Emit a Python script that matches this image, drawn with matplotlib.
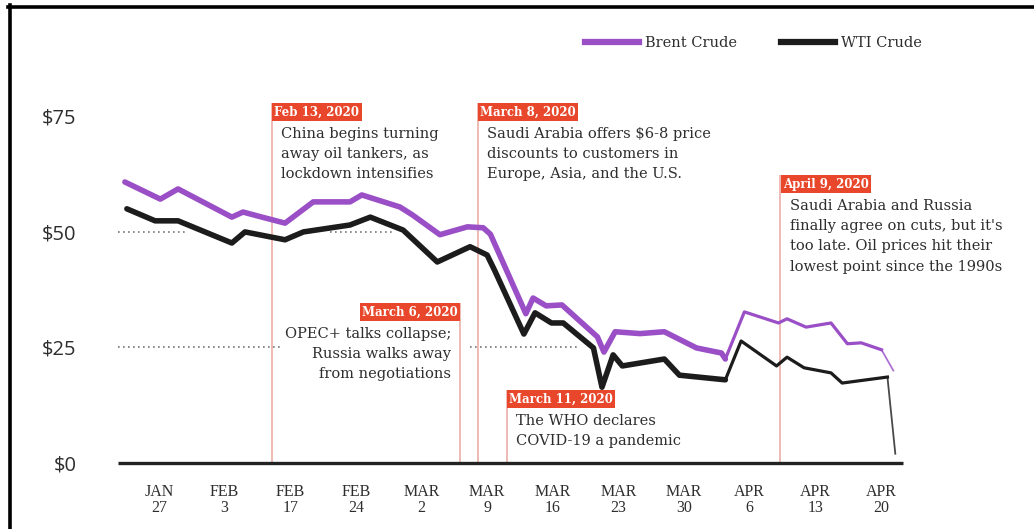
import matplotlib
matplotlib.use("Agg")
import matplotlib.pyplot as plt
from matplotlib.lines import Line2D

# x positions are in "tick units": 0 = JAN 27, 1 = FEB 3, ... 11 = APR 20
tick_labels = ["JAN\n27", "FEB\n3", "FEB\n17", "FEB\n24", "MAR\n2", "MAR\n9",
               "MAR\n16", "MAR\n23", "MAR\n30", "APR\n6", "APR\n13", "APR\n20"]

brent_x = [-0.52, 0.02, 0.29, 1.11, 1.28, 1.57, 1.92, 2.35, 2.91, 3.09, 3.67, 3.86,
           4.28, 4.70, 4.94, 5.05, 5.59, 5.70, 5.90, 6.14, 6.68, 6.78, 6.95, 7.33,
           7.70, 8.19, 8.57, 8.63, 8.92, 9.44, 9.57, 9.86, 10.24, 10.49, 10.70,
           11.01, 11.19]
brent_y = [60.8, 57.1, 59.3, 53.2, 54.3, 53.2, 51.9, 56.5, 56.5, 58.0, 55.4, 53.7,
           49.4, 51.1, 50.9, 49.5, 32.3, 35.7, 34.0, 34.2, 27.3, 24.0, 28.4, 28.0,
           28.4, 24.9, 23.8, 22.5, 32.7, 30.3, 31.2, 29.4, 30.3, 25.8, 26.0,
           24.5, 20.0]

wti_x = [-0.49, -0.06, 0.29, 1.11, 1.31, 1.92, 2.20, 2.91, 3.22, 3.72, 4.24, 4.74,
         5.00, 5.11, 5.56, 5.73, 5.98, 6.16, 6.62, 6.75, 6.92, 7.06, 7.70, 7.93,
         8.63, 8.87, 9.41, 9.57, 9.83, 10.24, 10.41, 11.10, 11.22]
wti_y = [55.0, 52.4, 52.4, 47.6, 50.0, 48.3, 50.0, 51.5, 53.2, 50.4, 43.5, 46.8,
         45.0, 41.8, 27.9, 32.5, 30.3, 30.3, 24.9, 16.4, 23.4, 21.0, 22.5, 19.0,
         18.0, 26.4, 21.0, 22.9, 20.6, 19.5, 17.3, 18.6, 2.0]

note_x = [1.72, 4.59, 4.86, 5.30, 9.47]
note_top = [77.9, 34.6, 77.9, 15.8, 62.3]
note_label = ["Feb 13, 2020", "March 6, 2020", "March 8, 2020", "March 11, 2020", "April 9, 2020"]
note_text = ["China begins turning\naway oil tankers, as\nlockdown intensifies",
             "OPEC+ talks collapse;\nRussia walks away\nfrom negotiations",
             "Saudi Arabia offers $6-8 price\ndiscounts to customers in\nEurope, Asia, and the U.S.",
             "The WHO declares\nCOVID-19 a pandemic",
             "Saudi Arabia and Russia\nfinally agree on cuts, but it's\ntoo late. Oil prices hit their\nlowest point since the 1990s"]
note_side = ["left", "right", "left", "left", "left"]

PURPLE = "#9a4fc6"
BLACK = "#1c1c1c"
RED = "#e8472b"
PINK = "#eaa7a1"
TXT = "#2e2e2e"
SERIF = ["DejaVu Serif"]

fig = plt.figure(figsize=(10.34, 5.29), dpi=100)
ax = fig.add_axes([110 / 1034, 66 / 529, 805 / 1034, 403 / 529])
ax.set_xlim(-0.747, 11.52)
ax.set_ylim(0, 87.2)
for s in ax.spines.values():
    s.set_visible(False)


def draw_series(xs, ys, color, cut1, cut2):
    # line gets thinner towards the end, like in the source graphic
    ax.plot(xs[:cut1 + 1], ys[:cut1 + 1], color=color, lw=4.0, solid_capstyle="round",
            solid_joinstyle="round", zorder=5)
    ax.plot(xs[cut1:cut2 + 1], ys[cut1:cut2 + 1], color=color, lw=2.3,
            solid_joinstyle="round", zorder=5)
    ax.plot(xs[cut2:], ys[cut2:], color=color, lw=1.3, alpha=0.8, zorder=5)


draw_series(brent_x, brent_y, PURPLE, brent_x.index(8.63), brent_x.index(11.01))
draw_series(wti_x, wti_y, BLACK, wti_x.index(8.63), wti_x.index(11.10))

# dotted guide segments
dot = dict(color="#777777", lw=1.2, linestyle=(0, (1, 2)), zorder=1)
ax.hlines(50, -0.63, 0.40, **dot)
ax.hlines(50, 2.61, 3.60, **dot)
ax.hlines(25, -0.63, 1.84, **dot)
ax.hlines(25, 4.74, 6.42, **dot)

# baseline
ax.hlines(0, -0.625, 11.33, color="#222222", lw=2.4, zorder=4, clip_on=False)

# annotations
for x, top, lab, txt, side in zip(note_x, note_top, note_label, note_text, note_side):
    ax.vlines(x, 0, top, color=PINK, lw=1.1, zorder=2)
    sign = 1 if side == "left" else -1
    ax.annotate(lab, xy=(x, top), xytext=(1.8 * sign, -1.8), textcoords="offset points",
                ha=side, va="top", fontsize=8.5, fontweight="bold", color="white",
                family=SERIF, bbox=dict(boxstyle="square,pad=0.18", fc=RED, ec="none"),
                zorder=6)
    ax.annotate(txt, xy=(x, top), xytext=(6.5 * sign, -17.5), textcoords="offset points",
                ha=side, va="top", fontsize=10.5, color=TXT, family=SERIF,
                linespacing=1.55, multialignment=side, zorder=6)

# axes ticks
ax.set_yticks([0, 25, 50, 75])
ax.set_yticklabels(["$0", "$25", "$50", "$75"], fontsize=14.5, color=TXT,
                   family=["Open Sans", "DejaVu Sans"])
ax.set_xticks(range(len(tick_labels)))
ax.set_xticklabels(tick_labels, fontsize=11.5, color=TXT,
                   family=["Liberation Serif", "DejaVu Serif"], linespacing=1.0)
ax.tick_params(axis="y", length=0, pad=24)
ax.tick_params(axis="x", length=0, pad=15)

# legend
handles = [Line2D([], [], color=PURPLE, lw=4.5), Line2D([], [], color=BLACK, lw=4.5)]
leg = fig.legend(handles, ["Brent Crude", "WTI Crude"], loc="center left",
                 bbox_to_anchor=(578 / 1034, 1 - 43 / 529), ncol=2, frameon=False,
                 borderpad=0, handlelength=3.7, handletextpad=0.4, columnspacing=3.0,
                 prop={"family": SERIF, "size": 10.5})
for t in leg.get_texts():
    t.set_color(TXT)

# outer frame (top and left edges visible in the source)
fig.add_artist(Line2D([9.5 / 1034, 9.5 / 1034], [0, 1 - 5 / 529], color="black", lw=2.6,
                      transform=fig.transFigure))
fig.add_artist(Line2D([8 / 1034, 1], [1 - 6.5 / 529, 1 - 6.5 / 529], color="black", lw=2.6,
                      transform=fig.transFigure))

fig.savefig("out.png", dpi=100)
